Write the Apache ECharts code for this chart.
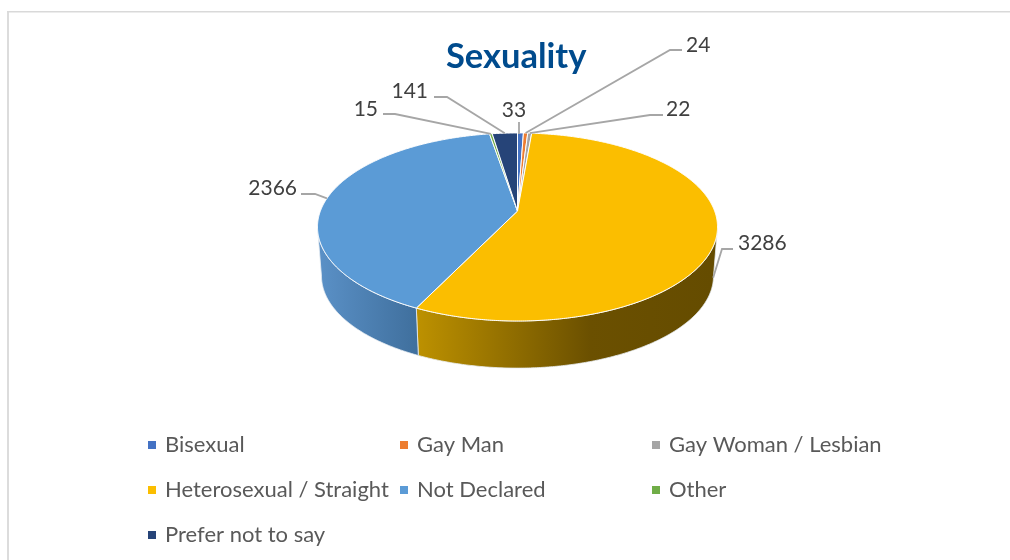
<!DOCTYPE html>
<html><head><meta charset="utf-8">
<style>html,body{margin:0;padding:0;background:#fff}#c{width:1010px;height:560px}</style>
<script src="https://cdn.jsdelivr.net/npm/echarts@6/dist/echarts.min.js"></script>
</head><body><div id="c"></div>
<script>
const categories = ['Bisexual','Gay Man','Gay Woman / Lesbian','Heterosexual / Straight','Not Declared','Other','Prefer not to say'];
const values = [33,24,22,3286,2366,15,141];
const colors = ['#4472c4','#ed7d31','#a5a5a5','#fbbe00','#5b9bd6','#70ad47','#264478'];
// label layout: text anchor, elbow, and how far down the wall the leader ends
const labelLayout = [
  {x:514,y:110,align:'center',path:[],low:0},
  {x:686,y:45,align:'left',path:[[682,50],[670,50]],low:0},
  {x:666,y:109,align:'left',path:[[663,115],[650,115]],low:0},
  {x:738,y:243,align:'left',path:[[733,249],[722,249]],low:0.85},
  {x:297,y:188,align:'right',path:[[301,194],[315,194]],low:0},
  {x:378,y:109,align:'right',path:[[383,114],[395,114]],low:0},
  {x:428,y:91,align:'right',path:[[434,97],[447,97]],low:0}
];
const wallFill = {
  3:[[417,'#bd9100'],[590,'#6b5000'],[712,'#654c00']],
  4:[[320,'#5a90c6'],[415,'#40709e']]
};
const total = values.reduce((a,b)=>a+b,0);
const CX=517.5, AY=211, A=197.1, B=91.3, K=0.17, EY=227, DEPTH=49, SHRINK=0.98, FRONT0=100, FRONT1=260;
function rim(deg){
  const t=deg*Math.PI/180, u=Math.sin(t), v=-Math.cos(t), w=1-K*v;
  return [CX+A*u/w, AY+B*v/w];
}
function lower(p){
  return [CX+(p[0]-CX)*SHRINK, EY+DEPTH+(p[1]-EY)*SHRINK];
}
function arc(a0,a1){
  const n=Math.max(2,Math.ceil(a1-a0)*2), pts=[];
  for(let i=0;i<=n;i++) pts.push(rim(a0+(a1-a0)*i/n));
  return pts;
}
function renderSlice(idx){
  return function(params,api){
    const before=values.slice(0,idx).reduce((a,b)=>a+b,0);
    const val=api.value(0);
    const a0=before/total*360, a1=(before+val)/total*360, mid=(a0+a1)/2;
    const top=arc(a0,a1);
    const L=labelLayout[idx];
    const r=rim(mid), d=lower(r);
    const end=[r[0]+(d[0]-r[0])*L.low, r[1]+(d[1]-r[1])*L.low];
    const line=L.path.length?L.path.concat([end]):[[519,122],[519,134]];
    const children=[
      {type:'polygon',z2:2,shape:{points:[[CX,AY]].concat(top)},style:{fill:colors[idx],stroke:'#ffffff',lineWidth:1,lineJoin:'round'}},
      {type:'polyline',z2:3,shape:{points:line},style:{fill:null,stroke:'#a6a6a6',lineWidth:1.8}},
      {type:'text',z2:4,style:{text:String(val),x:L.x,y:L.y,align:L.align,verticalAlign:'middle',fill:'#404040',font:'21px Lato'}}
    ];
    const f0=Math.max(a0,FRONT0), f1=Math.min(a1,FRONT1);
    if(f1>f0){
      const upper=arc(f0,f1), bottom=upper.map(lower).reverse();
      const stops=wallFill[idx];
      const x0=stops[0][0], x1=stops[stops.length-1][0];
      const fill={type:'linear',global:true,x:x0,y:0,x2:x1,y2:0,
        colorStops:stops.map(s=>({offset:(s[0]-x0)/(x1-x0),color:s[1]}))};
      children.unshift({type:'polygon',z2:1,shape:{points:upper.concat(bottom)},style:{fill:fill,stroke:'#e9eef2',lineWidth:0.8}});
    }
    return {type:'group',children:children};
  };
}
const legendFont={fontFamily:'Lato',fontSize:22,color:'#595959',padding:[0,0,0,4]};
function col(names,left){
  return {data:names,orient:'vertical',left:left,top:434,itemGap:23,icon:'rect',itemWidth:8,itemHeight:8,padding:0,
    selectedMode:false,textStyle:legendFont};
}
const chart=echarts.init(document.getElementById('c'),null,{renderer:'canvas'});
chart.setOption({
  animation:false,
  backgroundColor:'#fff',
  title:{text:'Sexuality',left:446,top:39,padding:0,textStyle:{fontFamily:'Lato',fontWeight:'bold',fontSize:34.5,color:'#004b8d'}},
  legend:[col([categories[0],categories[3],categories[6]],148),col([categories[1],categories[4]],400),col([categories[2],categories[5]],652)],
  graphic:[
    {type:'rect',silent:true,shape:{x:7,y:11,width:2,height:549},style:{fill:'#dcdcdc'}},
    {type:'rect',silent:true,shape:{x:7,y:11,width:1003,height:1.5},style:{fill:'#d9d9d9'}}
  ],
  series:categories.map((name,i)=>({
    type:'custom',name:name,coordinateSystem:'none',silent:true,
    itemStyle:{color:colors[i]},
    data:[[values[i]]],
    renderItem:renderSlice(i)
  }))
});
</script></body></html>
